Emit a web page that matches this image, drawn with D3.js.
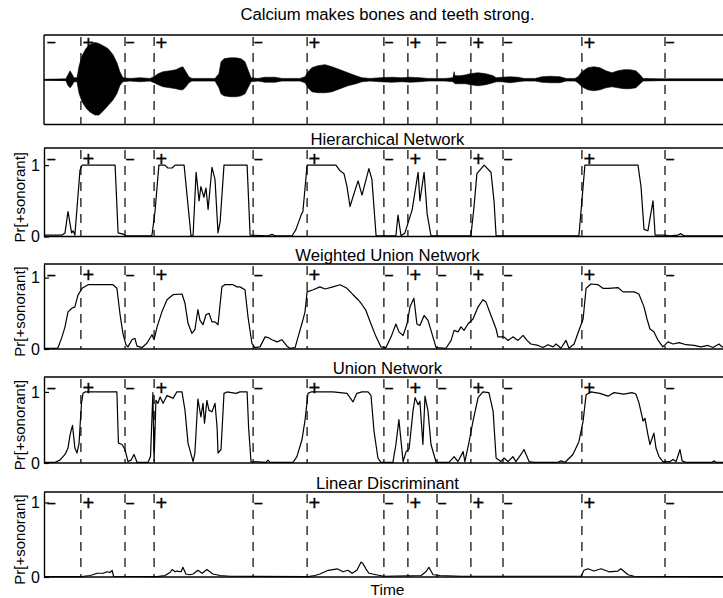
<!DOCTYPE html>
<html>
<head>
<meta charset="utf-8">
<script src="https://cdn.jsdelivr.net/npm/d3@7"></script>
<style>
  html, body { margin: 0; padding: 0; background: #fff; }
  svg { display: block; font-family: "Liberation Sans", Arial, Helvetica, sans-serif; }
</style>
</head>
<body>
<svg id="chart" width="723" height="598"></svg>
<script>
// ---------------------------------------------------------------------------
// Data (time in 10 ms frames)
// ---------------------------------------------------------------------------
const sentence = "Calcium makes bones and teeth strong.";
const panelTitles = ["Hierarchical Network", "Weighted Union Network", "Union Network", "Linear Discriminant"];
const yAxisLabel = "Pr[+sonorant]";
const xAxisLabel = "Time";
const yTickValues = [0, 1];

// Hand-labelled [sonorant] segment boundaries and the feature value that starts there
const segFrames = [0.7, 12.3, 27, 36.7, 69.7, 87.7, 113.3, 121.3, 131, 142.3, 153, 179.3, 207];
const segLabels = ["−", "+", "−", "+", "−", "+", "−", "+", "−", "+", "−", "+", "−"];

// Speech waveform amplitude envelope (fraction of full scale)
const waveFrame = [0, 7.3, 8, 8.7, 9.3, 10, 11, 11.7, 12.7, 14, 15.3, 17, 18.3, 19.7, 21.3, 23, 24.3, 25.3, 26.3,
  28.7, 32, 35.3, 36.7, 38, 39.7, 42, 44, 45.3, 46.3, 47.3, 48.3, 49.3, 57, 58.3, 59, 60, 62, 64, 65.7, 67, 68, 69,
  71.3, 73.7, 77, 79.3, 85.3, 87, 88, 89.3, 91.3, 93.7, 96, 98.7, 101.3, 104, 106, 108.7, 112, 116, 119.3, 122,
  125.3, 128, 133.7, 136.3, 136.7, 137, 138.7, 140.7, 142, 144.7, 147.3, 149.7, 150.7, 152.7, 155.3, 158, 160,
  163.7, 166, 168.7, 172, 174, 177, 178, 179.3, 181.3, 183.3, 185.3, 187.3, 189.3, 191.3, 193.3, 195.3, 197.3,
  198.7, 199.7, 205.3, 229];
const waveUpper = [0.01, 0.02, 0.11, 0.2, 0.13, 0.045, 0.045, 0.31, 0.54, 0.7, 0.79, 0.83, 0.81, 0.76, 0.7, 0.56, 0.38, 0.18, 0.045,
  0.03, 0.045, 0.03, 0.067, 0.135, 0.18, 0.2, 0.225, 0.27, 0.29, 0.18, 0.067, 0.03, 0.03, 0.135, 0.4, 0.47, 0.49, 0.49, 0.47, 0.4, 0.225, 0.045,
  0.03, 0.056, 0.056, 0.03, 0.03, 0.067, 0.18, 0.27, 0.315, 0.337, 0.29, 0.225, 0.157, 0.09, 0.045, 0.03, 0.045, 0.056, 0.045, 0.056,
  0.045, 0.03, 0.03, 0.045, 0.18, 0.09, 0.09, 0.11, 0.135, 0.157, 0.135, 0.09, 0.045, 0.056, 0.067, 0.056, 0.03,
  0.03, 0.067, 0.079, 0.067, 0.03, 0.03, 0.067, 0.18, 0.27, 0.29, 0.27, 0.2, 0.157, 0.2, 0.225, 0.225, 0.2,
  0.11, 0.03, 0.02, 0.02];
const waveLower = [0.01, 0.02, 0.13, 0.18, 0.13, 0.045, 0.045, 0.31, 0.49, 0.63, 0.72, 0.79, 0.79, 0.7, 0.58, 0.45, 0.31, 0.13, 0.045,
  0.03, 0.045, 0.03, 0.067, 0.11, 0.157, 0.18, 0.2, 0.225, 0.225, 0.157, 0.067, 0.03, 0.03, 0.18, 0.315, 0.36, 0.38, 0.38, 0.36, 0.315, 0.18, 0.045,
  0.03, 0.056, 0.056, 0.03, 0.03, 0.067, 0.18, 0.27, 0.29, 0.29, 0.27, 0.2, 0.135, 0.09, 0.045, 0.03, 0.045, 0.056, 0.045, 0.056,
  0.045, 0.03, 0.03, 0.045, 0.067, 0.09, 0.09, 0.09, 0.11, 0.135, 0.11, 0.067, 0.045, 0.045, 0.067, 0.045, 0.03,
  0.03, 0.056, 0.067, 0.067, 0.03, 0.03, 0.067, 0.157, 0.225, 0.247, 0.225, 0.18, 0.157, 0.18, 0.2, 0.2, 0.18,
  0.09, 0.03, 0.02, 0.02];

// Network outputs: [frame, Pr(+sonorant)]
const hierarchical = [[0,0.02],[6,0.02],[7,0.05],[8,0.35],[9.2,0.05],[9.7,0.08],[10.3,0.02],[12,0.93],[12.7,1],[23.7,1],
  [24.7,0.05],[26.7,0.03],[27.3,0.01],[35.7,0.01],[36,0.02],[37,0.35],[38.3,1],[40.3,1],[41.3,0.96],[42.7,0.96],[43.7,1],
  [46.7,1],[49,0.01],[49.7,0.02],[50.7,0.9],[51.7,0.5],[52.3,0.7],[53.3,0.55],[54,0.68],[54.7,0.38],[56,0.97],[57,0.8],
  [58,0.05],[58.7,0.2],[60,1],[67.7,1],[68.7,0.02],[74.7,0.01],[76,0.03],[77,0.01],[82.7,0.01],[84,0.1],[85.7,0.3],
  [86.3,0.35],[87.7,1],[97.3,1],[98.7,0.92],[100,0.88],[101,0.7],[102,0.42],[103.7,0.65],[104.7,0.78],[106,0.58],
  [108.3,0.95],[109.3,0.8],[110.7,0.01],[117.3,0.01],[118,0.3],[119,0.01],[120.3,0.05],[122.7,0.37],[124.7,0.9],
  [125.3,0.5],[126.7,0.9],[127.7,0.32],[129,0.01],[142.3,0.01],[143.3,0.4],[144.3,0.88],[146.7,1],[149,0.9],[150,0.5],
  [150.7,0.01],[178.3,0.01],[179.3,0.5],[180.3,1],[198,1],[199,0.7],[200,0.1],[201.3,0.08],[203,0.5],[203.7,0.02],
  [206.7,0.02],[208.7,0.01],[211.3,0.02],[212.3,0.04],[213.3,0.01],[229,0.01]];

const weightedUnion = [[0,0.01],[4.3,0.01],[4.7,0.02],[6,0.17],[7,0.31],[8,0.52],[9.3,0.57],[10.3,0.59],[11.3,0.75],
  [12.7,0.85],[14.7,0.9],[18.7,0.9],[23,0.9],[24.3,0.85],[25.3,0.5],[26.3,0.22],[27.3,0.06],[28,0.03],[29.3,0.13],
  [30.3,0.15],[31,0.04],[32.7,0.02],[34.3,0.08],[36,0.2],[36.7,0.13],[37.7,0.31],[39.3,0.52],[41,0.69],[43,0.76],
  [46,0.77],[47,0.64],[48,0.36],[49.3,0.22],[50.3,0.27],[51.3,0.55],[52,0.4],[53,0.34],[54,0.48],[55,0.5],[56,0.38],
  [57,0.38],[58,0.34],[59.3,0.87],[60.3,0.9],[63,0.9],[64.3,0.87],[65.3,0.87],[67,0.83],[68,0.45],[69.3,0.08],
  [70.3,0.02],[72,0.03],[73.7,0.17],[74.7,0.16],[76,0.13],[77.7,0.1],[79.3,0.13],[81,0.04],[82,0.01],[83.7,0.02],
  [84.7,0.17],[86,0.36],[87,0.52],[87.7,0.8],[89.7,0.83],[92,0.87],[93.7,0.84],[96.3,0.87],[98.7,0.9],[101,0.85],
  [103,0.76],[104.7,0.69],[105.7,0.64],[107.3,0.54],[109,0.35],[110.7,0.17],[112.3,0.03],[114,0.02],[115.7,0.17],
  [117.3,0.35],[118.3,0.24],[119.7,0.19],[121,0.35],[122,0.59],[123.3,0.71],[124.3,0.35],[125.3,0.33],[126.7,0.47],
  [128,0.4],[129,0.26],[130.7,0.02],[134,0.01],[135.7,0.12],[136.7,0.26],[138,0.24],[139,0.31],[140,0.26],[141.3,0.35],
  [143,0.42],[144.7,0.59],[146.3,0.69],[147.3,0.66],[149,0.47],[150.7,0.28],[151.3,0.17],[153.3,0.17],[154.7,0.12],
  [156.3,0.17],[158,0.12],[159.7,0.19],[161,0.12],[162.3,0.07],[164.7,0.05],[166.3,0.02],[168,0.06],[169.7,0.03],
  [170.7,0.07],[172.3,0.01],[174,0.12],[175,0.01],[176.7,0.07],[178.3,0.26],[179.7,0.42],[180.7,0.85],[182.3,0.91],
  [184.7,0.9],[186.3,0.85],[188.3,0.85],[191.3,0.86],[193,0.8],[194.7,0.8],[196.7,0.8],[198.3,0.77],[200,0.59],
  [201,0.42],[202,0.28],[203.3,0.24],[204.7,0.12],[206.3,0.03],[208,0.1],[209.7,0.07],[211.7,0.09],[214,0.06],
  [216.7,0.05],[219,0.03],[221.3,0.05],[223,0.02],[225,0.07],[226,0.03],[229,0.03]];

const unionNet = [[0,0.01],[3.7,0.01],[5.3,0.04],[7,0.12],[8,0.21],[8.7,0.4],[9.5,0.53],[10.3,0.21],[11,0.14],[11.7,0.28],
  [12,0.51],[12.5,0.84],[13,0.98],[13.7,1],[24.3,1],[24.8,0.28],[26,0.26],[27,0.19],[28,0.02],[29,0.04],[30,0.12],
  [31,0.01],[34.7,0.01],[35.5,0.09],[36,0.65],[36.3,0.99],[36.7,0.03],[37.3,0.88],[38,0.84],[38.7,0.93],[39.7,0.84],
  [41,0.95],[42,0.93],[43,0.91],[44.3,1],[46,1],[47,0.74],[48,0.28],[49.7,0.02],[50.3,0.14],[51.3,0.9],[52.3,0.65],
  [53,0.84],[53.5,0.56],[54.3,0.88],[55,0.74],[56,0.72],[57,0.84],[57.7,0.5],[58,0.14],[59,0.19],[60,0.98],[61,1],
  [64,0.98],[65.3,1],[67.7,1],[68.2,0.5],[69,0.02],[74,0.01],[74.7,0.04],[75.3,0.01],[83,0.01],[84.3,0.09],[86,0.33],
  [87,0.6],[88,0.98],[89,1],[96.3,1],[98.7,0.99],[101,0.98],[103,0.86],[104.3,0.98],[106,1],[108,1],[109,0.95],
  [110,0.45],[111.3,0.07],[112.3,0.01],[116.3,0.01],[117.3,0.26],[118.3,0.61],[119.7,0.02],[120.7,0.16],[121.7,0.2],
  [123,0.73],[123.7,0.92],[124.7,0.82],[125.3,0.87],[126.3,0.26],[127,0.94],[128,0.73],[129,0.26],[130.7,0.01],
  [135,0.01],[136.7,0.09],[138,0.02],[139.7,0.16],[140.3,0.02],[141.7,0.3],[143,0.59],[144.7,0.92],[146.3,1],
  [148.3,0.99],[149.7,0.73],[150.7,0.07],[152.3,0.02],[153.3,0.07],[154.7,0.02],[156.3,0.09],[157.3,0.02],[159,0.12],
  [160,0.19],[161.7,0.02],[163.3,0.01],[171.3,0.01],[172.3,0.03],[173.7,0.01],[176.3,0.12],[178.3,0.3],[179.7,0.59],
  [180.7,0.96],[182.3,1],[185.3,0.98],[188,0.94],[190,0.99],[193.3,0.97],[196,0.99],[197.3,0.97],[198.3,0.85],
  [199.7,0.59],[200.3,0.63],[201.3,0.4],[202,0.26],[203.3,0.42],[204,0.21],[205,0.09],[206.3,0.02],[208.7,0.02],
  [209.7,0.05],[210.7,0.02],[212,0.19],[212.7,0.03],[214,0.01],[222.7,0.01],[223.3,0.03],[224,0.01],[229,0.01]];

const linearDisc = [[0,0.005],[12.7,0.005],[13.3,0.01],[15.3,0.02],[16.3,0.03],[17.7,0.05],[19.7,0.05],[21,0.07],
  [22,0.06],[22.7,0.09],[23.2,0.01],[37.7,0.005],[40.3,0.02],[42,0.06],[42.7,0.1],[43.7,0.07],[44.3,0.08],[45.7,0.07],
  [46.3,0.13],[47.3,0.04],[48.7,0.03],[49.7,0.04],[51.3,0.09],[52.7,0.05],[54.3,0.1],[56.3,0.04],[58.7,0.02],[62,0.01],
  [88,0.005],[90.3,0.02],[92,0.04],[94.7,0.09],[96.3,0.1],[97.7,0.11],[99.7,0.07],[101.3,0.09],[102.7,0.05],[104.3,0.09],
  [105.7,0.2],[106.3,0.18],[107.3,0.11],[108.3,0.05],[110.7,0.03],[113.3,0.01],[125.7,0.02],[127.3,0.07],[128.3,0.13],
  [129.7,0.03],[132,0.02],[139,0.01],[179,0.01],[180,0.09],[181.3,0.11],[183.3,0.08],[185.7,0.11],[188.3,0.07],
  [191.3,0.08],[192.3,0.11],[194.7,0.03],[196.7,0.01],[229,0.005]];

const probSeries = [hierarchical, weightedUnion, unionNet, linearDisc];

// ---------------------------------------------------------------------------
// Layout
// ---------------------------------------------------------------------------
const svg = d3.select("#chart");
const x = d3.scaleLinear().domain([0, 229]).range([44, 731]);
const xLeft = x.range()[0], xRight = x.range()[1];
const titleX = (xLeft + xRight) / 2;

const waveBox = { top: 35, bottom: 124.5 };
const probBoxes = [
  { top: 148, bottom: 236.5, ymax: 1.24, labelDrop: 11 },
  { top: 264, bottom: 349,   ymax: 1.19, labelDrop: 11 },
  { top: 377, bottom: 463,   ymax: 1.21, labelDrop: 11 },
  { top: 492, bottom: 577,   ymax: 1.14, labelDrop: 11 }
];

const ink = "#000";

function frameLines(g, top, bottom) {
  g.append("line").attr("x1", xLeft).attr("x2", xRight + 5).attr("y1", top).attr("y2", top)
    .attr("stroke", ink).attr("stroke-width", 1.3);
  g.append("line").attr("x1", xLeft).attr("x2", xRight + 5).attr("y1", bottom).attr("y2", bottom)
    .attr("stroke", ink).attr("stroke-width", 1.4);
}

// dashed segment boundaries with their +/− feature labels
function boundaries(g, top, bottom, labelDrop) {
  const seg = g.append("g").attr("class", "segments");
  seg.selectAll("line").data(segFrames.slice(1)).join("line")
    .attr("x1", d => x(d)).attr("x2", d => x(d))
    .attr("y1", top + 2).attr("y2", bottom)
    .attr("stroke", ink).attr("stroke-width", 1.2)
    .attr("stroke-dasharray", "9,7");
  seg.selectAll("text").data(segFrames.map((f, i) => ({ f, s: segLabels[i] }))).join("text")
    .attr("x", d => x(d.f) + (d.s === "+" ? 1.5 : 0.3))
    .attr("y", d => top + labelDrop + (d.s === "+" ? 7.2 : 5.5))
    .attr("font-size", d => d.s === "+" ? 20 : 16)
    .attr("fill", ink)
    .attr("stroke", ink)
    .attr("stroke-width", 0.35)
    .text(d => d.s);
}

// ---- sentence title and waveform ----
svg.append("text").attr("x", titleX).attr("y", 19.5).attr("text-anchor", "middle")
  .attr("font-size", 16.7).attr("fill", ink).text(sentence);

const wg = svg.append("g");
const ya = d3.scaleLinear().domain([-1, 1]).range([waveBox.bottom, waveBox.top]);
wg.append("line").attr("x1", xLeft).attr("x2", xLeft).attr("y1", waveBox.top).attr("y2", waveBox.bottom)
  .attr("stroke", ink).attr("stroke-width", 1.4);
frameLines(wg, waveBox.top, waveBox.bottom);

const waveArea = d3.area()
  .x((d, i) => x(waveFrame[i]))
  .y0((d, i) => ya(-waveLower[i]))
  .y1((d, i) => ya(waveUpper[i]));
wg.append("path").datum(waveFrame).attr("d", waveArea).attr("fill", ink).attr("stroke", ink).attr("stroke-width", 0.6);
wg.append("line").attr("x1", xLeft).attr("x2", xRight + 5).attr("y1", ya(0)).attr("y2", ya(0))
  .attr("stroke", ink).attr("stroke-width", 1.4);
boundaries(wg, waveBox.top, waveBox.bottom, 7.5);

// ---- probability panels ----
probBoxes.forEach((box, k) => {
  const g = svg.append("g");
  const y = d3.scaleLinear().domain([0, box.ymax]).range([box.bottom, box.top]);

  g.append("text").attr("x", titleX).attr("y", box.top - 3.5).attr("text-anchor", "middle")
    .attr("font-size", 16.7).attr("fill", ink).text(panelTitles[k]);

  frameLines(g, box.top, box.bottom);

  const axis = g.append("g").attr("transform", `translate(${xLeft},0)`)
    .call(d3.axisLeft(y).tickValues(yTickValues).tickFormat(d3.format("d"))
      .tickSize(-5).tickSizeOuter(0).tickPadding(4));
  axis.attr("font-family", null).attr("font-size", 16);
  axis.select(".domain").attr("stroke", ink).attr("stroke-width", 1.4);
  axis.selectAll(".tick line").attr("stroke", ink).attr("stroke-width", 1.2);
  axis.selectAll(".tick text").attr("fill", ink);

  g.append("text")
    .attr("transform", `translate(25,${(box.top + box.bottom) / 2 + 5}) rotate(-90)`)
    .attr("text-anchor", "middle").attr("font-size", 15).attr("fill", ink)
    .text(yAxisLabel);

  boundaries(g, box.top, box.bottom, box.labelDrop);

  const line = d3.line().x(d => x(d[0])).y(d => y(d[1]));
  g.append("path").datum(probSeries[k]).attr("d", line)
    .attr("fill", "none").attr("stroke", ink).attr("stroke-width", 1.2)
    .attr("stroke-linejoin", "round");
});

svg.append("text").attr("x", titleX).attr("y", 595).attr("text-anchor", "middle")
  .attr("font-size", 15.5).attr("fill", ink).text(xAxisLabel);
</script>
</body>
</html>
